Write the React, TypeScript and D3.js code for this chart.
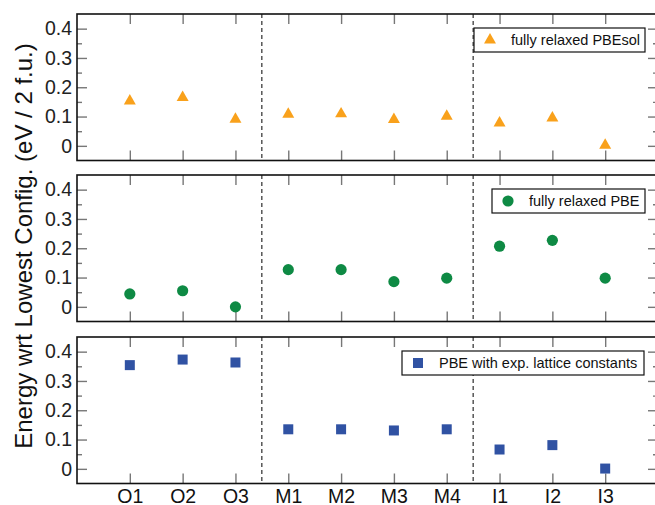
import React, { useEffect, useRef } from "react";
import * as d3 from "d3";

// data
const categories = ["O1", "O2", "O3", "M1", "M2", "M3", "M4", "I1", "I2", "I3"];
const pbesolValues = [0.153, 0.165, 0.091, 0.108, 0.109, 0.09, 0.101, 0.078, 0.095, 0.002];
const pbeValues = [0.044, 0.055, 0.0, 0.127, 0.127, 0.086, 0.098, 0.207, 0.227, 0.098];
const pbeExpValues = [0.354, 0.373, 0.363, 0.135, 0.135, 0.131, 0.135, 0.066, 0.081, 0.001];
const yTicks = [0, 0.1, 0.2, 0.3, 0.4];
const yMinorTicks = [0.05, 0.15, 0.25, 0.35];
const separators = [3.5, 7.5];

const panels = [
  { values: pbesolValues, label: "fully relaxed PBEsol", marker: "triangle", color: "#f9a11b", legendX: 474, legendW: 171 },
  { values: pbeValues, label: "fully relaxed PBE", marker: "circle", color: "#0e8a44", legendX: 492, legendW: 153 },
  { values: pbeExpValues, label: "PBE with exp. lattice constants", marker: "square", color: "#3052a3", legendX: 402, legendW: 242 },
];

export default function App() {
  const ref = useRef<SVGSVGElement>(null);

  useEffect(() => {
    const width = 655,
      height = 505,
      left = 77,
      right = 658,
      tops = [14, 175, 337],
      panelH = 146.5,
      font = "'Liberation Sans', Arial, Helvetica, sans-serif";

    const svg = d3.select(ref.current);
    svg.selectAll("*").remove();
    svg.attr("width", width).attr("height", height);

    // x scale: category index 1..10
    const x = d3.scaleLinear().domain([0, 11]).range([left, right]);
    const xIdx = categories.map((_, i) => i + 1);

    panels.forEach((p, k) => {
      const top = tops[k];
      const y = d3.scaleLinear().domain([-0.05, 0.45]).range([top + panelH, top]);
      const g = svg.append("g");

      const styleTicks = (sel: any) => {
        sel.select(".domain").remove();
        sel.selectAll(".tick line").attr("stroke", "#777").attr("stroke-width", 1.4);
        sel.selectAll(".tick text").attr("font-family", font).attr("fill", "#222");
      };

      // left axis with labels
      g.append("g")
        .attr("transform", `translate(${left},0)`)
        .call(d3.axisLeft(y).tickValues(yTicks).tickSize(-10).tickPadding(5).tickFormat((d: any) => (d === 0 ? "0" : d3.format(".1f")(d))))
        .call(styleTicks)
        .selectAll(".tick text")
        .attr("font-size", 19.5);
      g.append("g")
        .attr("transform", `translate(${left},0)`)
        .call(d3.axisLeft(y).tickValues(yMinorTicks).tickSize(-5).tickFormat(() => ""))
        .call(styleTicks);

      // right axis
      g.append("g")
        .attr("transform", `translate(${right},0)`)
        .call(d3.axisRight(y).tickValues(yTicks).tickSize(-10).tickFormat(() => ""))
        .call(styleTicks);
      g.append("g")
        .attr("transform", `translate(${right},0)`)
        .call(d3.axisRight(y).tickValues(yMinorTicks).tickSize(-5).tickFormat(() => ""))
        .call(styleTicks);

      // top and bottom x ticks
      g.append("g")
        .attr("transform", `translate(0,${top})`)
        .call(d3.axisTop(x).tickValues(xIdx).tickSize(-10).tickFormat(() => ""))
        .call(styleTicks);
      const xb = g.append("g")
        .attr("transform", `translate(0,${top + panelH})`)
        .call(
          d3.axisBottom(x)
            .tickValues(xIdx)
            .tickSize(-10)
            .tickPadding(6)
            .tickFormat((d: any) => (k === 2 ? categories[d - 1] : ""))
        )
        .call(styleTicks);
      xb.selectAll(".tick text").attr("font-size", 19.5).attr("fill", "#111");

      // separators
      g.selectAll(".sep")
        .data(separators)
        .enter()
        .append("line")
        .attr("x1", (d) => x(d))
        .attr("x2", (d) => x(d))
        .attr("y1", top)
        .attr("y2", top + panelH)
        .attr("stroke", "#000")
        .attr("stroke-width", 1)
        .attr("stroke-dasharray", "4,3");

      // frame
      g.append("rect")
        .attr("x", left)
        .attr("y", top)
        .attr("width", right - left)
        .attr("height", panelH)
        .attr("fill", "none")
        .attr("stroke", "#111")
        .attr("stroke-width", 1.6);

      // markers
      const drawMarker = (sel: any) => {
        if (p.marker === "circle") {
          sel.append("circle").attr("r", 5.6).attr("fill", p.color);
        } else if (p.marker === "square") {
          sel.append("rect").attr("x", -5).attr("y", -5).attr("width", 10).attr("height", 10).attr("fill", p.color);
        } else {
          sel.append("path").attr("d", d3.symbol().type(d3.symbolTriangle).size(62)()).attr("fill", p.color);
        }
      };

      g.selectAll(".pt")
        .data(p.values)
        .enter()
        .append("g")
        .attr("transform", (d, i) => `translate(${x(i + 1)},${y(d)})`)
        .each(function () {
          drawMarker(d3.select(this));
        });

      // legend
      const ly = top + 14;
      const leg = g.append("g");
      leg.append("rect")
        .attr("x", p.legendX)
        .attr("y", ly)
        .attr("width", p.legendW)
        .attr("height", 24)
        .attr("fill", "#fff")
        .attr("stroke", "#111")
        .attr("stroke-width", 1.2);
      const lm = leg.append("g").attr("transform", `translate(${p.legendX + 16},${ly + 12})`);
      drawMarker(lm);
      leg.append("text")
        .attr("x", p.legendX + 37)
        .attr("y", ly + 17)
        .attr("font-family", font)
        .attr("font-size", 14.5)
        .attr("fill", "#111")
        .text(p.label);
    });

    // y axis title
    svg.append("text")
      .attr("transform", `translate(32,${246}) rotate(-90)`)
      .attr("text-anchor", "middle")
      .attr("font-family", "'Liberation Sans', Arial, Helvetica, sans-serif")
      .attr("font-size", 24)
      .attr("fill", "#111")
      .text("Energy wrt Lowest Config. (eV / 2 f.u.)");
  }, []);

  return (
    <div style={{ position: "absolute", left: 0, top: 0 }}>
      <svg ref={ref} />
    </div>
  );
}
